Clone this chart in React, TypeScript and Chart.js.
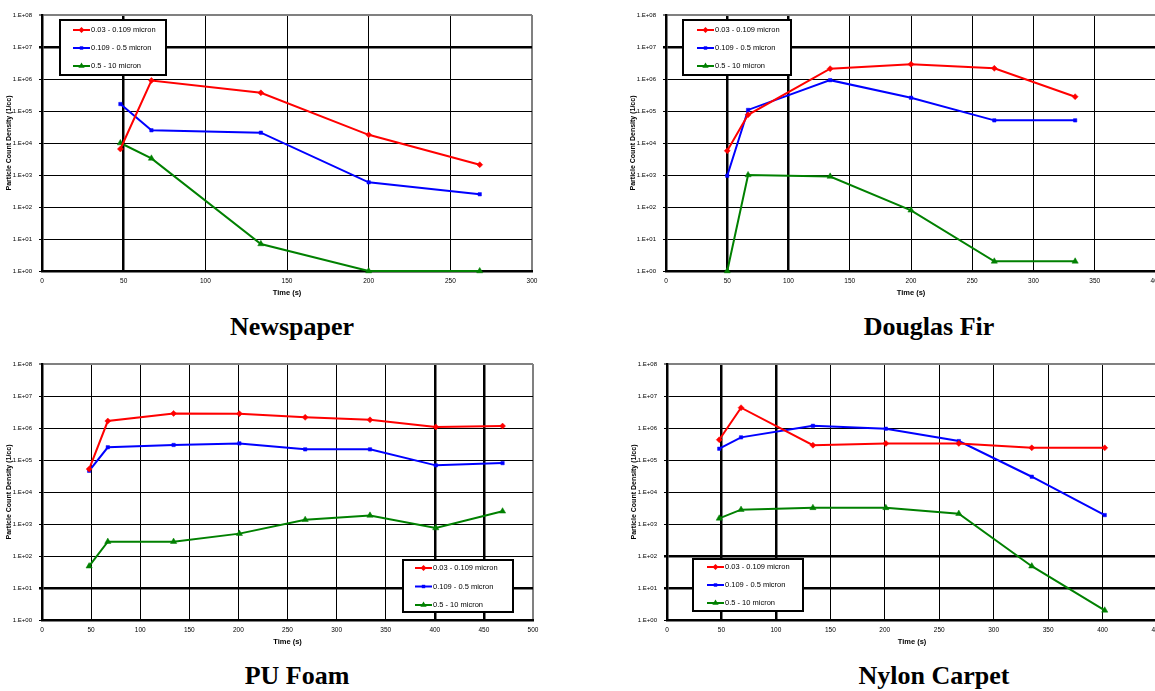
import React, { useEffect, useRef } from "react";
import { Chart, registerables } from "chart.js";

Chart.register(...registerables);

// ---------- shared labels ----------
const SERIES_LABELS = ["0.03 - 0.109 micron", "0.109 - 0.5 micron", "0.5 - 10 micron"];
const SERIES_COLORS = ["#FF0000", "#0000FF", "#008000"];
const POINT_STYLES = ["rectRot", "rect", "triangle"];
const POINT_RADII = [3, 2.4, 3.6];
const Y_TICK_VALUES = [1, 10, 100, 1000, 10000, 100000, 1000000, 10000000, 100000000];
const X_AXIS_TITLE = "Time (s)";
const Y_AXIS_TITLE = "Particle Count Density (1/cc)";

// ---------- Newspaper ----------
const newspaperTitle = "Newspaper";
const newspaperTime = [48, 67, 134, 200, 268];
const newspaperFine = [6500, 900000, 370000, 18000, 2100];
const newspaperMid = [165000, 25000, 21000, 590, 250];
const newspaperCoarse = [10000, 3300, 7, 1, 1];
const newspaperXTicks = [0, 50, 100, 150, 200, 250, 300];

// ---------- Douglas Fir ----------
const firTitle = "Douglas Fir";
const firTime = [50, 67, 134, 200, 268, 334];
const firFine = [5700, 76000, 2100000, 2900000, 2150000, 280000];
const firMid = [950, 108000, 920000, 260000, 51000, 51000];
const firCoarse = [1, 1000, 900, 79, 2, 2];
const firXTicks = [0, 50, 100, 150, 200, 250, 300, 350, 400];

// ---------- PU Foam ----------
const foamTitle = "PU Foam";
const foamTime = [48, 67, 134, 201, 268, 334, 401, 469];
const foamFine = [52000, 1650000, 2850000, 2800000, 2150000, 1800000, 1080000, 1150000];
const foamMid = [46000, 250000, 295000, 330000, 215000, 215000, 68000, 80000];
const foamCoarse = [48, 280, 280, 500, 1360, 1850, 750, 2500];
const foamXTicks = [0, 50, 100, 150, 200, 250, 300, 350, 400, 450, 500];

// ---------- Nylon Carpet ----------
const nylonTitle = "Nylon Carpet";
const nylonTime = [48, 68, 134, 201, 268, 335, 402];
const nylonFine = [430000, 4300000, 290000, 330000, 330000, 240000, 240000];
const nylonMid = [225000, 510000, 1170000, 950000, 390000, 30000, 1900];
const nylonCoarse = [1500, 2800, 3200, 3200, 2100, 48, 2];
const nylonXTicks = [0, 50, 100, 150, 200, 250, 300, 350, 400, 450];

const Y_AXIS_WIDTH = 42;
const SANS = "'Liberation Sans', Arial, sans-serif";

type LegendSpec = {
  x: number; y: number; w: number; h: number;
  first: number; spacing: number; lineStart: number; lineEnd: number; textX: number;
};

type Spec = {
  title: string;
  titleCenter: number; titleTop: number;
  canvasLeft: number; canvasTop: number; canvasWidth: number; canvasHeight: number;
  plotLeft: number; plotTop: number; plotRight: number; plotBottom: number;
  xMax: number; xTicks: number[];
  time: number[]; series: number[][];
  thickX: number[]; thickY: number[];
  legend: LegendSpec;
};

const SPECS: Spec[] = [
  {
    title: newspaperTitle, titleCenter: 292, titleTop: 314,
    canvasLeft: 0, canvasTop: 0, canvasWidth: 577, canvasHeight: 300,
    plotLeft: 42, plotTop: 15, plotRight: 532, plotBottom: 271,
    xMax: 300, xTicks: newspaperXTicks, time: newspaperTime,
    series: [newspaperFine, newspaperMid, newspaperCoarse],
    thickX: [50], thickY: [10000000],
    legend: { x: 60, y: 20, w: 106, h: 55, first: 10, spacing: 18, lineStart: 13, lineEnd: 30, textX: 31 },
  },
  {
    title: firTitle, titleCenter: 929, titleTop: 314,
    canvasLeft: 577, canvasTop: 0, canvasWidth: 623, canvasHeight: 300,
    plotLeft: 666, plotTop: 15, plotRight: 1156, plotBottom: 271,
    xMax: 400, xTicks: firXTicks, time: firTime,
    series: [firFine, firMid, firCoarse],
    thickX: [50, 100], thickY: [10000000],
    legend: { x: 683, y: 20, w: 108, h: 55, first: 10, spacing: 18, lineStart: 14, lineEnd: 31, textX: 32 },
  },
  {
    title: foamTitle, titleCenter: 297, titleTop: 663,
    canvasLeft: 0, canvasTop: 349, canvasWidth: 577, canvasHeight: 300,
    plotLeft: 42, plotTop: 364, plotRight: 533, plotBottom: 620,
    xMax: 500, xTicks: foamXTicks, time: foamTime,
    series: [foamFine, foamMid, foamCoarse],
    thickX: [400, 450], thickY: [10],
    legend: { x: 403, y: 560, w: 110, h: 52, first: 8, spacing: 18.5, lineStart: 12, lineEnd: 29, textX: 30 },
  },
  {
    title: nylonTitle, titleCenter: 934, titleTop: 663,
    canvasLeft: 577, canvasTop: 349, canvasWidth: 623, canvasHeight: 300,
    plotLeft: 667, plotTop: 364, plotRight: 1157, plotBottom: 620,
    xMax: 450, xTicks: nylonXTicks, time: nylonTime,
    series: [nylonFine, nylonMid, nylonCoarse],
    thickX: [50, 100], thickY: [100, 10],
    legend: { x: 693, y: 559, w: 110, h: 52, first: 8, spacing: 18, lineStart: 14, lineEnd: 31, textX: 32 },
  },
];

function drawMarker(ctx: CanvasRenderingContext2D, style: string, x: number, y: number, r: number) {
  ctx.beginPath();
  if (style === "rectRot") {
    ctx.moveTo(x, y - r); ctx.lineTo(x + r, y); ctx.lineTo(x, y + r); ctx.lineTo(x - r, y);
  } else if (style === "rect") {
    const s = r * Math.SQRT1_2;
    ctx.rect(x - s, y - s, 2 * s, 2 * s);
  } else {
    const h = r * 1.5;
    ctx.moveTo(x, y - r); ctx.lineTo(x + r * 0.866, y + r * 0.5); ctx.lineTo(x - r * 0.866, y + r * 0.5);
    void h;
  }
  ctx.closePath();
  ctx.fill();
}

const boxLegendPlugin = {
  id: "boxLegend",
  afterDraw(chart: any, _args: any, opts: any) {
    const lg: LegendSpec = opts.spec;
    const ox: number = opts.ox;
    const oy: number = opts.oy;
    if (!lg) return;
    const ctx: CanvasRenderingContext2D = chart.ctx;
    const x = lg.x - ox;
    const y = lg.y - oy;
    ctx.save();
    ctx.fillStyle = "#ffffff";
    ctx.fillRect(x, y, lg.w, lg.h);
    ctx.lineWidth = 2;
    ctx.strokeStyle = "#000000";
    ctx.strokeRect(x, y, lg.w, lg.h);
    chart.data.datasets.forEach((ds: any, i: number) => {
      const cy = y + lg.first + i * lg.spacing;
      ctx.strokeStyle = ds.borderColor;
      ctx.fillStyle = ds.borderColor;
      ctx.lineWidth = 2;
      ctx.beginPath();
      ctx.moveTo(x + lg.lineStart, cy);
      ctx.lineTo(x + lg.lineEnd, cy);
      ctx.stroke();
      drawMarker(ctx, POINT_STYLES[i], x + (lg.lineStart + lg.lineEnd) / 2, cy, POINT_RADII[i]);
      ctx.fillStyle = "#000000";
      ctx.font = `7.5px ${SANS}`;
      ctx.textBaseline = "middle";
      ctx.textAlign = "left";
      ctx.fillText(ds.label, x + lg.textX, cy);
    });
    ctx.restore();
  },
};

function yLabel(v: number): string {
  const e = Math.round(Math.log10(v));
  return "1.E+" + String(e).padStart(2, "0");
}

function makeConfig(s: Spec): any {
  const padLeft = s.plotLeft - s.canvasLeft - Y_AXIS_WIDTH;
  const padTop = s.plotTop - s.canvasTop;
  const padRight = s.canvasLeft + s.canvasWidth - s.plotRight;
  const xAxisHeight = s.canvasTop + s.canvasHeight - s.plotBottom;
  return {
    type: "line",
    data: {
      datasets: s.series.map((vals, i) => ({
        label: SERIES_LABELS[i],
        data: s.time.map((t, j) => ({ x: t, y: vals[j] })),
        borderColor: SERIES_COLORS[i],
        backgroundColor: SERIES_COLORS[i],
        pointBackgroundColor: SERIES_COLORS[i],
        pointBorderColor: SERIES_COLORS[i],
        borderWidth: 2,
        pointStyle: POINT_STYLES[i],
        pointRadius: POINT_RADII[i],
        pointBorderWidth: 0.5,
        tension: 0,
        clip: false,
      })),
    },
    options: {
      animation: false,
      responsive: false,
      maintainAspectRatio: false,
      events: [],
      layout: { padding: { left: padLeft, top: padTop, right: padRight, bottom: 0 } },
      plugins: {
        legend: { display: false },
        tooltip: { enabled: false },
        title: { display: false },
        boxLegend: { spec: s.legend, ox: s.canvasLeft, oy: s.canvasTop },
      },
      scales: {
        x: {
          type: "linear",
          min: 0,
          max: s.xMax,
          afterBuildTicks: (scale: any) => {
            scale.ticks = s.xTicks.map((v) => ({ value: v }));
          },
          afterFit: (scale: any) => {
            scale.height = xAxisHeight;
          },
          grid: {
            drawTicks: false,
            color: (c: any) => (c.tick && c.tick.value === s.xMax ? "#808080" : "#000000"),
            lineWidth: (c: any) =>
              c.tick && s.thickX.includes(c.tick.value) ? 2.5 : c.tick && c.tick.value === s.xMax ? 2 : 1,
          },
          border: { display: true, color: "#000000", width: 2.5 },
          ticks: {
            autoSkip: false,
            maxRotation: 0,
            padding: 6,
            color: "#000000",
            font: { family: SANS, size: 6.5 },
            callback: (v: any) => String(v),
          },
          title: {
            display: true,
            text: X_AXIS_TITLE,
            color: "#000000",
            font: { family: SANS, size: 7.5, weight: "bold" },
            padding: { top: 0, bottom: 3 },
          },
        },
        y: {
          type: "logarithmic",
          min: 1,
          max: 100000000,
          afterBuildTicks: (scale: any) => {
            scale.ticks = Y_TICK_VALUES.map((v) => ({ value: v, major: true }));
          },
          afterFit: (scale: any) => {
            scale.width = Y_AXIS_WIDTH;
          },
          grid: {
            drawTicks: true,
            tickLength: 3,
            color: (c: any) => (c.tick && c.tick.value === 100000000 ? "#808080" : "#000000"),
            lineWidth: (c: any) =>
              c.tick && s.thickY.includes(c.tick.value) ? 2.5 : c.tick && c.tick.value === 100000000 ? 2 : 1,
          },
          border: { display: true, color: "#000000", width: 2.5 },
          ticks: {
            autoSkip: false,
            padding: 7,
            color: "#000000",
            font: { family: SANS, size: 6 },
            callback: (v: any) => yLabel(Number(v)),
          },
          title: {
            display: true,
            text: Y_AXIS_TITLE,
            color: "#000000",
            font: { family: SANS, size: 7, weight: "bold" },
            padding: { top: 5, bottom: 0 },
          },
        },
      },
    },
    plugins: [boxLegendPlugin],
  };
}

function ChartPanel({ spec }: { spec: Spec }) {
  const ref = useRef<HTMLCanvasElement | null>(null);
  useEffect(() => {
    if (!ref.current) return;
    const chart = new Chart(ref.current, makeConfig(spec));
    return () => chart.destroy();
  }, [spec]);
  return (
    <>
      <canvas
        ref={ref}
        width={spec.canvasWidth}
        height={spec.canvasHeight}
        style={{
          position: "absolute",
          left: spec.canvasLeft,
          top: spec.canvasTop,
          width: spec.canvasWidth,
          height: spec.canvasHeight,
          display: "block",
        }}
      />
      <div
        style={{
          position: "absolute",
          left: spec.titleCenter - 150,
          top: spec.titleTop,
          width: 300,
          textAlign: "center",
          fontFamily: "'Liberation Serif', 'Times New Roman', serif",
          fontWeight: "bold",
          fontSize: 26,
          lineHeight: "26px",
          color: "#000000",
          whiteSpace: "nowrap",
        }}
      >
        {spec.title}
      </div>
    </>
  );
}

export default function App() {
  return (
    <div
      style={{
        position: "absolute",
        left: 0,
        top: 0,
        width: 1155,
        height: 691,
        overflow: "hidden",
        background: "#ffffff",
      }}
    >
      {SPECS.map((s) => (
        <ChartPanel key={s.title} spec={s} />
      ))}
    </div>
  );
}
